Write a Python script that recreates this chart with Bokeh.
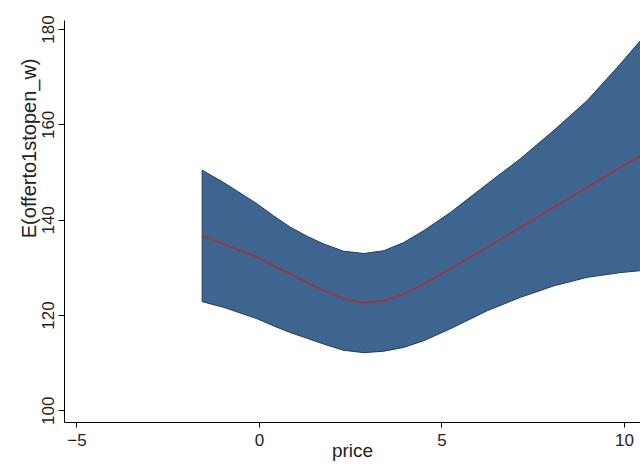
import math
from bokeh.plotting import figure
from bokeh.models import FixedTicker, Range1d, Title
from bokeh.embed import file_html
from bokeh.resources import INLINE

# Data (price vs predicted mean with CI band)
price = [-1.57, -0.98, -0.06, 0.39, 0.85, 1.31, 1.76, 2.30, 2.86, 3.41, 3.95, 4.50, 5.23, 6.24, 7.15, 8.06, 8.98, 9.89, 10.44]
fit = [136.7, 135.0, 132.2, 130.4, 128.7, 126.9, 125.2, 123.5, 122.7, 123.1, 124.5, 126.6, 129.8, 134.3, 138.5, 142.7, 146.9, 151.1, 153.5]
lower = [122.9, 121.7, 119.3, 117.8, 116.4, 115.2, 114.0, 112.7, 112.2, 112.5, 113.3, 114.7, 117.2, 121.0, 123.8, 126.2, 128.0, 129.0, 129.4]
upper = [150.5, 147.9, 143.4, 140.9, 138.5, 136.6, 135.0, 133.5, 133.0, 133.6, 135.3, 137.8, 141.6, 147.6, 152.9, 158.8, 165.1, 172.8, 177.7]

x_ticks = [-5, 0, 5, 10]
y_ticks = [100, 120, 140, 160, 180]
x_title = "price"
y_title = "E(offerto1stopen_w)"

FONT = "Liberation Sans"

p = figure(width=640, height=464, output_backend="svg", toolbar_location=None,
           x_range=Range1d(-5.342, 10.44), y_range=Range1d(97.54, 181.9),
           min_border_left=64, min_border_right=0, min_border_top=20, min_border_bottom=42)
p.outline_line_color = None
p.grid.visible = False
p.background_fill_color = "white"
p.border_fill_color = "white"

# CI band
poly_x = price + price[::-1]
poly_y = upper + lower[::-1]
p.patch(poly_x, poly_y, fill_color="#3d6590", line_color="#1f3c5e", line_width=1,
        line_join="round")
# fitted line
p.line(price, fit, line_color="#903a4e", line_width=2, line_join="round")

for ax in (p.xaxis[0], p.yaxis[0]):
    ax.axis_line_color = "black"
    ax.axis_line_width = 1
    ax.major_tick_line_color = "black"
    ax.minor_tick_line_color = None
    ax.major_tick_in = 0
    ax.major_label_text_font = FONT
    ax.major_label_text_font_size = "17px"
    ax.major_label_text_color = "#222222"

p.xaxis[0].ticker = FixedTicker(ticks=x_ticks)
p.xaxis[0].major_tick_out = 5
p.xaxis[0].major_label_standoff = 6
p.xaxis[0].axis_label = x_title
p.xaxis[0].axis_label_text_font = FONT
p.xaxis[0].axis_label_text_font_size = "19px"
p.xaxis[0].axis_label_text_font_style = "normal"
p.xaxis[0].axis_label_text_color = "#222222"
p.xaxis[0].axis_label_standoff = -9

p.yaxis[0].ticker = FixedTicker(ticks=y_ticks)
p.yaxis[0].major_tick_out = 6
p.yaxis[0].major_label_standoff = 4
p.yaxis[0].major_label_orientation = "vertical"

# y title on the left, placed toward the top like the reference
p.add_layout(Title(text=y_title, align="right", offset=38, standoff=0,
                   text_font=FONT, text_font_size="20px", text_font_style="normal",
                   text_color="#222222"), "left")

open("out.html", "w").write(file_html(p, INLINE))
